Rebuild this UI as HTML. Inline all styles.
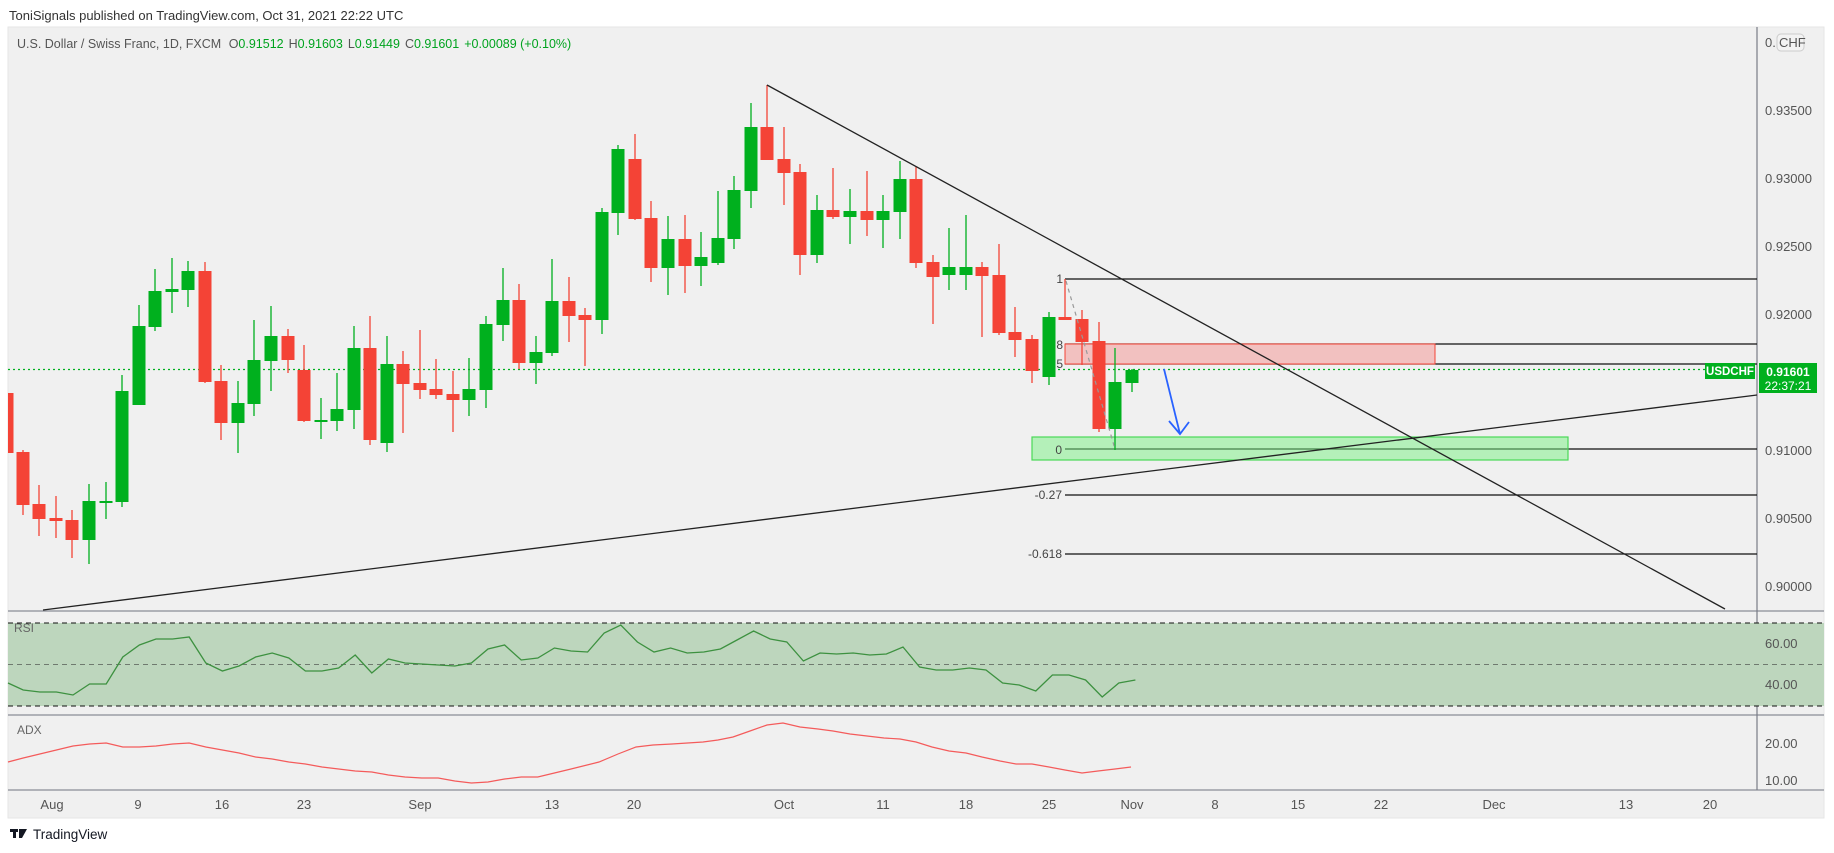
<!DOCTYPE html>
<html><head><meta charset="utf-8">
<style>
html,body{margin:0;padding:0;background:#fff;width:1834px;height:853px;overflow:hidden}
svg{display:block}
text{font-family:"Liberation Sans",sans-serif}
</style></head>
<body>
<svg id="s" width="1834" height="853" viewBox="0 0 1834 853" xmlns="http://www.w3.org/2000/svg">
<defs><clipPath id="main"><rect x="8" y="27" width="1750" height="584"/></clipPath></defs>
<rect x="0" y="0" width="1834" height="853" fill="#fff"/>
<text x="9" y="20" font-size="13" fill="#333">ToniSignals published on TradingView.com, Oct 31, 2021 22:22 UTC</text>
<rect x="8" y="27" width="1816" height="791" fill="#f0f0f0" stroke="#e6e6e6"/>
<!-- panes separators -->
<line x1="8" y1="611" x2="1824" y2="611" stroke="#8a8d96" stroke-width="1.2"/>
<line x1="8" y1="715" x2="1824" y2="715" stroke="#8a8d96" stroke-width="1.2"/>
<line x1="8" y1="790" x2="1824" y2="790" stroke="#8a8d96" stroke-width="1.2"/>
<line x1="1757" y1="27" x2="1757" y2="790" stroke="#787b86" stroke-width="1.2"/>
<!-- RSI band -->
<rect x="8" y="623" width="1816" height="83" fill="#bdd6bd"/>
<line x1="8" y1="623" x2="1824" y2="623" stroke="#111" stroke-dasharray="5,4"/>
<line x1="8" y1="706" x2="1824" y2="706" stroke="#111" stroke-dasharray="5,4"/>
<line x1="8" y1="664.5" x2="1824" y2="664.5" stroke="#6f7a6f" stroke-dasharray="5,4"/>
<g id="draw" clip-path="url(#main)"></g>
<g id="ind"></g>
<!-- legend -->
<text x="17" y="48" font-size="12.5" fill="#555">U.S. Dollar / Swiss Franc, 1D, FXCM <tspan dx="4">O</tspan><tspan fill="#00a31e">0.91512</tspan><tspan dx="5">H</tspan><tspan fill="#00a31e">0.91603</tspan><tspan dx="5">L</tspan><tspan fill="#00a31e">0.91449</tspan><tspan dx="5">C</tspan><tspan fill="#00a31e">0.91601</tspan><tspan dx="5" fill="#00a31e">+0.00089 (+0.10%)</tspan></text>
<!-- price axis -->
<g font-size="13" fill="#555">
<text x="1765" y="47">0.</text>
<rect x="1777" y="34" width="27" height="17" rx="4" fill="#f3f3f3" stroke="#ccc"/>
<text x="1779" y="47">CHF</text>
<text x="1765" y="115">0.93500</text>
<text x="1765" y="183">0.93000</text>
<text x="1765" y="251">0.92500</text>
<text x="1765" y="319">0.92000</text>
<text x="1765" y="455">0.91000</text>
<text x="1765" y="523">0.90500</text>
<text x="1765" y="591">0.90000</text>
<text x="1765" y="648">60.00</text>
<text x="1765" y="689">40.00</text>
<text x="1765" y="748">20.00</text>
<text x="1765" y="785">10.00</text>
</g>
<text x="14" y="632" font-size="12" fill="#666">RSI</text>
<text x="17" y="734" font-size="12" fill="#666">ADX</text>
<!-- time axis -->
<g font-size="13" fill="#555" text-anchor="middle">
<text x="52" y="809">Aug</text><text x="138" y="809">9</text><text x="222" y="809">16</text><text x="304" y="809">23</text>
<text x="420" y="809">Sep</text><text x="552" y="809">13</text><text x="634" y="809">20</text><text x="784" y="809">Oct</text>
<text x="883" y="809">11</text><text x="966" y="809">18</text><text x="1049" y="809">25</text><text x="1132" y="809">Nov</text>
<text x="1215" y="809">8</text><text x="1298" y="809">15</text><text x="1381" y="809">22</text><text x="1494" y="809">Dec</text>
<text x="1626" y="809">13</text><text x="1710" y="809">20</text>
</g>
<!-- tags -->
<rect x="1705" y="363" width="50" height="16" fill="#00b01e"/>
<text x="1730" y="375" font-size="11.5" font-weight="bold" fill="#fff" text-anchor="middle">USDCHF</text>
<rect x="1759" y="363" width="58" height="30" fill="#00b01e"/>
<text x="1788" y="376" font-size="12" font-weight="bold" fill="#fff" text-anchor="middle">0.91601</text>
<text x="1788" y="390" font-size="12" fill="#fff" text-anchor="middle">22:37:21</text>
<!-- logo -->
<g fill="#131722"><rect x="10" y="829" width="8" height="3"/><rect x="13" y="829" width="3" height="9"/><polygon points="19,829 27,829 22,838 19,838"/></g>
<text x="33" y="839" font-size="13.5" fill="#131722">TradingView</text>
<!-- fib labels -->
<g font-size="12" fill="#444" text-anchor="end">
<text x="1063" y="283">1</text>
<text x="1063" y="349">8</text>
<text x="1063" y="368">5</text>
<text x="1062" y="454">0</text>
<text x="1062" y="499">-0.27</text>
<text x="1062" y="558">-0.618</text>
</g>
</svg>
<script>
const NS="http://www.w3.org/2000/svg";
const g=document.getElementById('draw'), ind=document.getElementById('ind');
function el(p,t,a){const e=document.createElementNS(NS,t);for(const k in a)e.setAttribute(k,a[k]);p.appendChild(e);return e;}
// current price dotted
el(g,'line',{x1:8,y1:369.5,x2:1757,y2:369.5,stroke:'#00b01e','stroke-dasharray':'2,3','stroke-width':1.2});
// fib lines
[[279,'#111'],[344,'#111'],[364,'#111'],[449,'#111'],[495,'#111'],[554,'#111']].forEach(l=>el(g,'line',{x1:1065,y1:l[0],x2:1757,y2:l[0],stroke:l[1],'stroke-width':1.3}));
// boxes
el(g,'rect',{x:1065,y:344,width:370,height:20,fill:'#f2c1c0',stroke:'#f44336','stroke-width':1});
el(g,'rect',{x:1032,y:437,width:536,height:23,fill:'rgba(120,240,130,0.5)',stroke:'#4ad858','stroke-width':1.2});
const C=[
[7,393,453,390,455,'r'],[23,452,505,450,515,'r'],[39,504,519,485,536,'r'],[56,518,521,496,538,'r'],[72,520,540,510,558,'r'],
[89,501,540,484,564,'g'],[106,501,502,482,519,'g'],[122,391,502,375,507,'g'],[139,326,405,305,405,'g'],[155,291,327,269,331,'g'],
[172,289,292,258,313,'g'],[188,271,290,261,307,'g'],[205,271,382,262,383,'r'],[221,381,423,365,440,'r'],[238,403,423,381,453,'g'],
[254,360,404,320,416,'g'],[271,336,361,306,391,'g'],[288,336,360,329,373,'r'],[304,370,421,345,422,'r'],[321,420,421,398,439,'g'],
[337,409,421,373,431,'g'],[354,348,410,326,429,'g'],[370,348,440,316,445,'r'],[387,364,443,336,452,'g'],[403,364,384,351,433,'r'],
[420,383,390,330,399,'r'],[436,389,395,359,399,'r'],[453,394,400,371,432,'r'],[469,389,400,358,416,'g'],[486,324,390,316,408,'g'],
[503,300,325,268,341,'g'],[519,300,363,284,369,'r'],[536,352,363,336,384,'g'],[552,301,353,259,356,'g'],[569,301,316,277,342,'r'],
[585,315,320,308,366,'r'],[602,212,320,208,334,'g'],[618,149,213,145,235,'g'],[635,159,219,134,220,'r'],[651,218,268,201,282,'r'],
[668,239,268,216,295,'g'],[685,239,266,215,293,'r'],[701,257,266,232,286,'g'],[718,238,263,191,265,'g'],[734,190,239,176,249,'g'],
[751,127,191,103,208,'g'],[767,127,160,85,160,'r'],[784,159,173,127,205,'r'],[800,172,255,164,275,'r'],[817,210,255,195,263,'g'],
[833,210,217,168,219,'r'],[850,211,217,189,244,'g'],[867,211,220,171,236,'r'],[883,211,220,195,248,'g'],[900,179,212,161,239,'g'],
[916,179,263,167,268,'r'],[933,262,277,255,324,'r'],[949,267,275,228,290,'g'],[966,267,275,215,290,'g'],[982,267,276,262,337,'r'],
[999,275,333,244,335,'r'],[1015,332,340,307,357,'r'],[1032,339,371,335,383,'r'],[1049,317,377,312,385,'g'],[1065,317,320,279,320,'r'],
[1082,319,342,310,365,'r'],[1099,341,429,322,432,'r'],[1115,382,429,348,450,'g'],[1132,370,383,369,392,'g']];
C.forEach(c=>{const col=c[5]=='r'?'#f44336':'#00b01e';
 el(g,'line',{x1:c[0],y1:c[3],x2:c[0],y2:c[4],stroke:col,'stroke-width':1.3});
 el(g,'rect',{x:c[0]-6.5,y:c[1],width:13,height:Math.max(2,c[2]-c[1]),fill:col});});
// fib diag dashed
el(g,'line',{x1:1066,y1:281,x2:1115,y2:449,stroke:'#999','stroke-dasharray':'4,4','stroke-width':1.2});
// trendlines
el(g,'line',{x1:767,y1:85,x2:1725,y2:609,stroke:'#222','stroke-width':1.3});
el(g,'line',{x1:43,y1:610,x2:1757,y2:395,stroke:'#222','stroke-width':1.3});
// blue arrow
el(g,'polyline',{points:'1164,369 1180,434',fill:'none',stroke:'#2962ff','stroke-width':1.8});
el(g,'polyline',{points:'1169,421 1180,434 1189,422',fill:'none',stroke:'#2962ff','stroke-width':1.8});
// RSI
const rsi=[683,690,692,692,695,684,684,657,645,639,639,637,663,671,666,657,653,658,671,671,668,655,673,659,663,664,665,666,663,649,645,660,658,648,651,
652,633,625,642,652,648,653,652,649,640,631,639,642,661,653,654,653,655,654,647,667,670,670,668,670,683,685,691,675,675,680,697,683,680];
el(ind,'polyline',{points:rsi.map((y,k)=>(Math.max(8,6.6+16.6*k))+','+y).join(' '),fill:'none',stroke:'#3d9140','stroke-width':1.3});
const adx=[762,758,754,750,746,744,743,747,747,746,744,743,747,750,753,757,759,762,764,767,769,771,772,775,777,778,778,781,783,782,779,777,777,773,769];
let pts=adx.map((y,k)=>(Math.max(8,6.6+16.6*k))+','+y);
pts=pts.concat('599,762 618,754 636,747 653,745 672,744 703,742 718,740 733,737 750,731 767,725 783,723 800,727 818,729 833,731 850,734 867,736 884,738 900,739 916,742 932,747 949,751 966,753 982,757 1000,761 1016,764 1032,764 1049,767 1065,770 1082,773 1098,771 1115,769 1131,767'.split(' '));
el(ind,'polyline',{points:pts.join(' '),fill:'none',stroke:'#f45b5b','stroke-width':1.2});
</script>
</body></html>
